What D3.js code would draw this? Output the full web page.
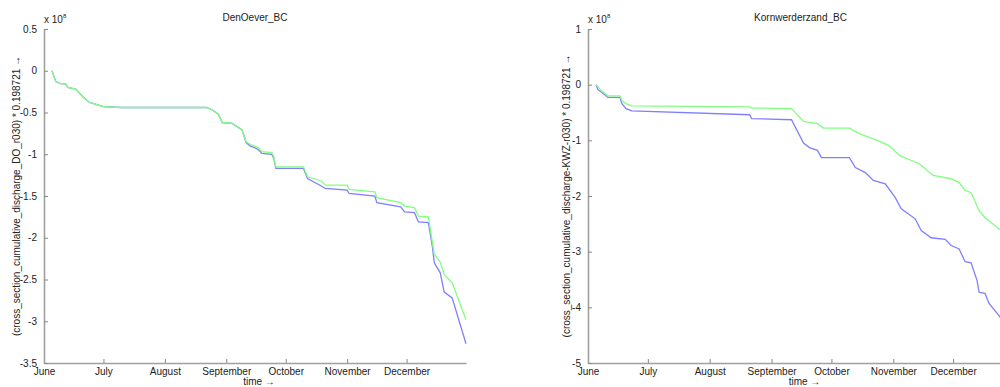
<!DOCTYPE html>
<html>
<head>
<meta charset="utf-8">
<script src="https://cdn.jsdelivr.net/npm/d3@7"></script>
<style>
  body { margin: 0; background: #fff; }
  svg { display: block; font-family: "Liberation Sans", Arial, sans-serif; }
</style>
</head>
<body>
<svg id="chart" width="1000" height="387"></svg>
<script>
// month tick labels (first of each month)
const monthLabels = ["June", "July", "August", "September", "October", "November", "December"];
const monthStarts = ["06-01", "07-01", "08-01", "09-01", "10-01", "11-01", "12-01"];

// DenOever_BC (values in units of 1e8)
const doYTicks = [0.5, 0, -0.5, -1, -1.5, -2, -2.5, -3, -3.5];
const doGreenDates = ["06-05", "06-07", "06-09", "06-12", "06-13", "06-17", "06-21", "06-24", "07-01", "07-10",
  "08-22", "08-25", "08-28", "08-30", "09-04", "09-09", "09-11", "09-13", "09-17", "09-19", "09-24", "09-25",
  "09-26", "10-10", "10-12", "10-19", "10-21", "11-01", "11-02", "11-15", "11-16", "11-28", "11-30", "12-05",
  "12-07", "12-12", "12-14", "12-15", "12-18", "12-20", "12-24", "12-31"];
const doGreen = [0, -0.13, -0.15, -0.16, -0.2, -0.22, -0.32, -0.38, -0.43, -0.44,
  -0.44, -0.47, -0.52, -0.62, -0.63, -0.71, -0.85, -0.88, -0.92, -0.97, -0.98, -1.03,
  -1.15, -1.15, -1.27, -1.32, -1.37, -1.37, -1.42, -1.45, -1.52, -1.58, -1.62, -1.64,
  -1.74, -1.75, -2.05, -2.2, -2.29, -2.44, -2.54, -2.98];
const doBlueDates = ["06-05", "06-07", "06-09", "06-12", "06-13", "06-17", "06-21", "06-24", "07-01", "07-10",
  "08-22", "08-25", "08-28", "08-30", "09-04", "09-09", "09-11", "09-13", "09-17", "09-19", "09-24", "09-25",
  "09-26", "10-10", "10-12", "10-19", "10-21", "11-01", "11-02", "11-15", "11-16", "11-28", "11-30", "12-05",
  "12-07", "12-12", "12-14", "12-15", "12-18", "12-20", "12-24", "12-31"];
const doBlue = [0, -0.13, -0.15, -0.16, -0.2, -0.22, -0.32, -0.38, -0.43, -0.44,
  -0.44, -0.47, -0.52, -0.62, -0.63, -0.71, -0.86, -0.9, -0.94, -0.99, -1.0, -1.05,
  -1.17, -1.17, -1.29, -1.38, -1.41, -1.43, -1.47, -1.5, -1.58, -1.63, -1.69, -1.7,
  -1.81, -1.82, -2.1, -2.3, -2.42, -2.65, -2.72, -3.27];

// Kornwerderzand_BC (values in units of 1e8)
const kwzYTicks = [1, 0, -1, -2, -3, -4, -5];
const kwzGreenDates = ["06-05", "06-08", "06-11", "06-17", "06-18", "06-20", "06-23", "08-21", "08-22", "09-11",
  "09-17", "09-24", "09-27", "10-10", "10-15", "10-24", "10-30", "11-04", "11-14", "11-21", "11-30", "12-04",
  "12-07", "12-10", "12-14", "12-17", "12-24", "12-31"];
const kwzGreen = [0, -0.12, -0.2, -0.2, -0.29, -0.34, -0.38, -0.4, -0.42, -0.43,
  -0.66, -0.7, -0.78, -0.78, -0.88, -1.0, -1.1, -1.27, -1.42, -1.63, -1.69, -1.76,
  -1.9, -1.94, -2.26, -2.39, -2.59, -2.8];
const kwzBlueDates = ["06-05", "06-06", "06-08", "06-11", "06-17", "06-18", "06-20", "06-23", "08-21", "08-22",
  "09-11", "09-17", "09-20", "09-24", "09-26", "10-10", "10-13", "10-18", "10-22", "10-28", "11-02", "11-05",
  "11-12", "11-15", "11-20", "11-27", "11-30", "12-04", "12-07", "12-10", "12-13", "12-14", "12-17", "12-19",
  "12-24", "12-31"];
const kwzBlue = [0, -0.09, -0.14, -0.23, -0.23, -0.34, -0.43, -0.47, -0.54, -0.61,
  -0.63, -1.05, -1.13, -1.18, -1.31, -1.31, -1.49, -1.58, -1.72, -1.78, -2.03, -2.23,
  -2.41, -2.62, -2.75, -2.78, -2.89, -2.95, -3.18, -3.2, -3.52, -3.73, -3.75, -3.93,
  -4.15, -4.5];

const year = 2009;
const parseDay = s => d3.timeParse("%Y-%m-%d")(year + "-" + s);

const svg = d3.select("#chart");
const axisColor = "#a0a0a0";
const textColor = "#222";

function panel(opts) {
  const g = svg.append("g");
  const x = d3.scaleTime()
    .domain([parseDay("06-01"), parseDay("12-31")])
    .range([opts.left, opts.right]);
  const y = d3.scaleLinear()
    .domain([opts.yTicks[opts.yTicks.length - 1], opts.yTicks[0]])
    .range([opts.bottom, opts.top]);

  // lines: blue under green
  const line = d3.line()
    .x(d => x(d[0]))
    .y(d => y(d[1]));
  const series = [
    { dates: opts.blueDates, vals: opts.blue, color: "#7f7fff" },
    { dates: opts.greenDates, vals: opts.green, color: "#80ff80" }
  ];
  series.forEach(s => {
    const pts = s.dates.map((d, i) => [parseDay(d), s.vals[i]]);
    g.append("path")
      .datum(pts)
      .attr("fill", "none")
      .attr("stroke", s.color)
      .attr("stroke-width", 1.3)
      .attr("d", line);
  });

  // x axis (ticks pointing inward)
  const xAxis = d3.axisBottom(x)
    .tickValues(monthStarts.map(parseDay))
    .tickFormat((d, i) => monthLabels[i])
    .tickSizeInner(-4)
    .tickSizeOuter(0)
    .tickPadding(5);
  const gx = g.append("g")
    .attr("transform", `translate(0,${opts.bottom})`)
    .call(xAxis);
  gx.select(".domain").attr("stroke", axisColor).attr("stroke-width", 1.6);
  gx.selectAll(".tick line").attr("stroke", "#888");
  gx.selectAll(".tick text")
    .attr("fill", textColor)
    .style("font-size", "10px");

  // y axis
  const yAxis = d3.axisLeft(y)
    .tickValues(opts.yTicks)
    .tickFormat(d => d3.format("")(d).replace("−", "-"))
    .tickSizeInner(-4)
    .tickSizeOuter(0)
    .tickPadding(7);
  const gy = g.append("g")
    .attr("transform", `translate(${opts.left},0)`)
    .call(yAxis);
  gy.select(".domain").attr("stroke", axisColor).attr("stroke-width", 1.6);
  gy.selectAll(".tick line").attr("stroke", "#888");
  gy.selectAll(".tick text")
    .attr("fill", textColor)
    .style("font-size", "10px");

  // exponent label
  const ex = g.append("text")
    .attr("x", opts.left)
    .attr("y", opts.top - 6)
    .attr("fill", textColor)
    .style("font-size", "10px");
  ex.append("tspan").text("x 10");
  ex.append("tspan").attr("dy", -5).style("font-size", "6px").text("8");

  // title
  g.append("text")
    .attr("x", (opts.left + opts.right) / 2)
    .attr("y", 21)
    .attr("text-anchor", "middle")
    .attr("fill", textColor)
    .style("font-size", "10px")
    .text(opts.title);

  // x label
  g.append("text")
    .attr("x", (opts.left + opts.right) / 2 + 4)
    .attr("y", 385)
    .attr("text-anchor", "middle")
    .attr("fill", textColor)
    .style("font-size", "10px")
    .text("time \u2192");

  // y label
  g.append("text")
    .attr("transform", `translate(${opts.ylabelX},${(opts.top + opts.bottom) / 2}) rotate(-90)`)
    .attr("text-anchor", "middle")
    .attr("fill", textColor)
    .style("font-size", "10px")
    .text(opts.ylabel);
}

panel({
  title: "DenOever_BC",
  ylabel: "(cross_section_cumulative_discharge_DO_r030) * 0.198721 \u2192",
  left: 44, right: 466, top: 29, bottom: 363, ylabelX: 20,
  yTicks: doYTicks,
  greenDates: doGreenDates, green: doGreen,
  blueDates: doBlueDates, blue: doBlue
});

panel({
  title: "Kornwerderzand_BC",
  ylabel: "(cross_section_cumulative_discharge-KWZ-r030) * 0.198721 \u2192",
  left: 588, right: 1013, top: 29, bottom: 363, ylabelX: 570,
  yTicks: kwzYTicks,
  greenDates: kwzGreenDates, green: kwzGreen,
  blueDates: kwzBlueDates, blue: kwzBlue
});
</script>
</body>
</html>
